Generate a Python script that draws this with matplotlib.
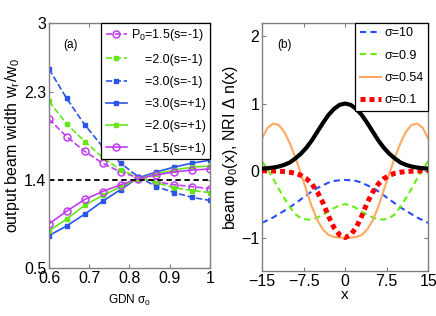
import numpy as np
import matplotlib
matplotlib.use("Agg")
import matplotlib.pyplot as plt

plt.rcParams["font.family"] = ["Liberation Sans", "DejaVu Sans"]
plt.rcParams["mathtext.fontset"] = "custom"
plt.rcParams["mathtext.rm"] = "Liberation Sans"
plt.rcParams["mathtext.it"] = "Liberation Sans:italic"
plt.rcParams["mathtext.default"] = "regular"


# ---------------------------------------------------------
#  Panel (a): output beam width vs GDN sigma_0
# ---------------------------------------------------------

sigma0 = [0.6, 0.644, 0.689, 0.733, 0.778, 0.822, 0.867, 0.911, 0.956, 1.0]

w_p15_neg = [2.02, 1.84, 1.69, 1.57, 1.48, 1.42, 1.38, 1.35, 1.33, 1.31]
w_p20_neg = [2.20, 1.97, 1.79, 1.63, 1.50, 1.43, 1.37, 1.32, 1.29, 1.27]
w_p30_neg = [2.53, 2.23, 1.96, 1.74, 1.57, 1.43, 1.33, 1.27, 1.22, 1.19]
w_p30_pos = [0.83, 0.93, 1.05, 1.18, 1.30, 1.42, 1.48, 1.53, 1.57, 1.60]
w_p20_pos = [0.88, 1.00, 1.14, 1.24, 1.33, 1.41, 1.46, 1.50, 1.53, 1.54]
w_p15_pos = [0.95, 1.08, 1.20, 1.28, 1.35, 1.41, 1.45, 1.48, 1.50, 1.51]

reference_width = 1.4

# ---------------------------------------------------------
#  Panel (b): beam profile and nonlocal index change (x >= 0, symmetric)
# ---------------------------------------------------------

x_half = [0, 1, 2, 3, 4, 5, 6, 7, 8, 9, 10, 11, 12, 13, 14, 15]

beam = [1.0, 0.98, 0.92, 0.83, 0.71, 0.58, 0.45, 0.34, 0.25, 0.18,
        0.12, 0.085, 0.06, 0.045, 0.035, 0.03]
dn_s10 = [-0.14, -0.145, -0.155, -0.18, -0.22, -0.26, -0.31, -0.37,
          -0.43, -0.49, -0.55, -0.60, -0.65, -0.70, -0.74, -0.78]
dn_s09 = [-0.50, -0.52, -0.56, -0.61, -0.66, -0.70, -0.73, -0.73,
          -0.71, -0.65, -0.54, -0.41, -0.27, -0.12, 0.02, 0.14]
dn_s054 = [-1.0, -1.0, -0.99, -0.96, -0.88, -0.74, -0.54, -0.29,
           -0.04, 0.20, 0.41, 0.58, 0.68, 0.70, 0.64, 0.48]
dn_s01 = [-1.0, -0.96, -0.85, -0.68, -0.48, -0.32, -0.20, -0.12,
          -0.07, -0.04, -0.025, -0.015, -0.01, -0.006, -0.004, -0.002]


def mirror(values):
    """Builds the full symmetric profile from the x >= 0 half."""
    v = list(values)
    return v[:0:-1] + v


x_full = [-x for x in x_half[:0:-1]] + x_half

PURPLE = "#c03cf0"
GREEN = "#66e619"
BLUE = "#2a55e8"
FRAME = "#808080"
PAD = "    "


def style_axes(ax):
    for spine in ax.spines.values():
        spine.set_color(FRAME)
        spine.set_linewidth(1.0)
    ax.tick_params(direction="in", length=3, width=0.8, color=FRAME,
                   labelsize=11.5, pad=2, top=True, right=True)


def boxed_legend(ax):
    leg = ax.legend(loc="upper right", fontsize=9, handlelength=1.7,
                    handletextpad=0.3, labelspacing=0.82, borderpad=0.35,
                    borderaxespad=0.0, fancybox=False, framealpha=1)
    leg.get_frame().set_edgecolor("black")
    leg.get_frame().set_linewidth(0.9)
    return leg


fig = plt.figure(figsize=(4.36, 3.16), dpi=100)
ax1 = fig.add_axes([0.1124, 0.152, 0.369, 0.775])
ax2 = fig.add_axes([0.601, 0.142, 0.381, 0.785])

# ---- panel (a)
ax1.plot(sigma0, w_p15_neg, "--o", color=PURPLE, lw=1.2, ms=5, mfc="none",
         mew=1.1, label="P$_0$=1.5(s=-1)")
ax1.plot(sigma0, w_p20_neg, "--s", color=GREEN, lw=1.2, ms=3.5,
         label=PAD + "=2.0(s=-1)")
ax1.plot(sigma0, w_p30_neg, "--s", color=BLUE, lw=1.2, ms=3.5,
         label=PAD + "=3.0(s=-1)")
ax1.plot(sigma0, w_p30_pos, "-s", color=BLUE, lw=1.2, ms=3.5,
         label=PAD + "=3.0(s=+1)")
ax1.plot(sigma0, w_p20_pos, "-s", color=GREEN, lw=1.2, ms=3.5,
         label=PAD + "=2.0(s=+1)")
ax1.plot(sigma0, w_p15_pos, "-o", color=PURPLE, lw=1.2, ms=5, mfc="none",
         mew=1.1, label=PAD + "=1.5(s=+1)")
ax1.axhline(reference_width, color="black", ls=(0, (3, 2)), lw=1.3)

ax1.set_xlim(0.6, 1.0)
ax1.set_ylim(0.5, 3.0)
ax1.set_xticks([0.6, 0.7, 0.8, 0.9, 1.0])
ax1.set_xticklabels(["0.6", "0.7", "0.8", "0.9", "1"])
ax1.set_yticks([0.5, 1.4, 2.3, 3.0])
ax1.set_yticklabels(["0.5", "1.4", "2.3", "3"])
style_axes(ax1)
ax1.set_ylabel("output beam width w$_r$/w$_0$", fontsize=11.5, labelpad=1)
ax1.set_xlabel("GDN σ$_0$", fontsize=8.5, labelpad=5)
ax1.text(0.09, 0.9, "(a)", transform=ax1.transAxes, fontsize=8.5)
boxed_legend(ax1)

# ---- panel (b)
ax2.plot(x_full, mirror(beam), color="black", lw=3.0, zorder=4)
ax2.plot(x_full, mirror(dn_s10), color="#2b4cff", ls=(0, (3, 2)), lw=1.5,
         label="σ=10")
ax2.plot(x_full, mirror(dn_s09), color="#66ee11", ls=(0, (3, 2)), lw=1.5,
         label="σ=0.9")
ax2.plot(x_full, mirror(dn_s054), color="#ffa860", lw=1.5,
         label="σ=0.54")
ax2.plot(x_full, mirror(dn_s01), color="#ff0000", ls=(0, (1, 0.8)), lw=3.6,
         label="σ=0.1", zorder=3)

ax2.set_xlim(-15, 15)
ax2.set_ylim(-1.5, 2.2)
ax2.set_xticks([-15, -7.5, 0, 7.5, 15])
ax2.set_xticklabels(["\u221215", "\u22127.5", "0", "7.5", "15"])
ax2.set_yticks([-1, 0, 1, 2])
ax2.set_yticklabels(["\u22121", "0", "1", "2"])
style_axes(ax2)
ax2.set_ylabel("beam φ$_0$(x), NRI Δ n(x)", fontsize=11.5, labelpad=1)
ax2.set_xlabel("x", fontsize=11, labelpad=-1)
ax2.text(0.09, 0.9, "(b)", transform=ax2.transAxes, fontsize=8.5)
boxed_legend(ax2)

fig.savefig("out.png", dpi=100)
